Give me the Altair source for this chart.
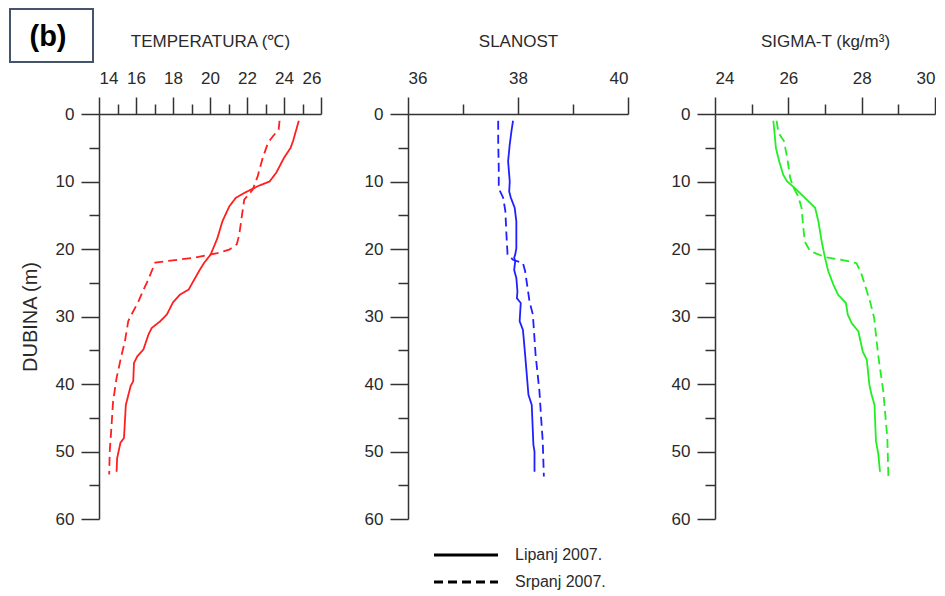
import altair as alt
import pandas as pd

FONT = "Liberation Sans"
INK = "#2a2a2a"

# ---------------- data ----------------
months = ["Lipanj 2007.", "Srpanj 2007."]
panel_titles = ["TEMPERATURA (℃)", "SLANOST", "SIGMA-T (kg/m³)"]
panel_label = "(b)"
y_title = "DUBINA (m)"

temp_jun_depth = [1.0, 4.0, 5.0, 6.5, 8.7, 10.0, 10.7, 11.7, 12.4, 13.7, 15.9, 18.4, 20.8, 22.1, 23.3, 26.0,
                  26.8, 27.9, 29.7, 30.7, 31.7, 32.7, 34.9, 35.9, 36.9, 39.6, 40.3, 43.1, 48.0, 48.7, 51.0, 53.0]
temp_jun_val = [24.8, 24.49, 24.36, 24.0, 23.58, 23.22, 22.58, 21.85, 21.4, 21.04, 20.67, 20.4, 20.04, 19.67, 19.4,
                18.85, 18.36, 18.0, 17.67, 17.31, 16.85, 16.67, 16.4, 16.07, 15.89, 15.85, 15.71, 15.45, 15.35,
                15.16, 14.98, 14.95]
temp_jul_depth = [1.0, 2.3, 3.3, 4.3, 6.5, 9.2, 11.2, 12.7, 14.4, 17.9, 19.3, 20.1, 20.6, 21.3, 22.0, 22.6, 24.8,
                  26.3, 27.8, 29.7, 30.7, 33.7, 35.7, 39.1, 42.6, 46.5, 50.0, 53.4]
temp_jul_val = [23.76, 23.71, 23.4, 23.13, 22.85, 22.58, 22.31, 21.85, 21.76, 21.58, 21.45, 21.04, 20.4, 19.13,
                17.04, 16.95, 16.62, 16.36, 16.13, 15.76, 15.58, 15.4, 15.22, 14.95, 14.76, 14.67, 14.58, 14.55]

sal_jun_depth = [1.0, 2.6, 4.5, 7.0, 10.0, 11.5, 12.4, 13.9, 15.9, 19.9, 20.8, 21.3, 21.8, 23.1, 24.3, 26.3, 27.3,
                 28.0, 30.7, 32.0, 35.7, 41.6, 43.1, 49.0, 50.0, 53.0]
sal_jun_val = [37.91, 37.88, 37.85, 37.82, 37.85, 37.84, 37.87, 37.94, 37.97, 37.97, 37.95, 37.93, 37.95, 37.93,
               37.97, 37.99, 37.98, 38.05, 38.03, 38.09, 38.13, 38.19, 38.25, 38.28, 38.30, 38.30]
sal_jul_depth = [1.0, 4.0, 8.0, 11.0, 12.4, 14.4, 17.9, 20.8, 21.6, 22.1, 23.3, 27.8, 29.7, 35.7, 41.1, 45.0,
                 48.5, 53.7]
sal_jul_val = [37.64, 37.64, 37.65, 37.65, 37.73, 37.77, 37.79, 37.81, 37.91, 38.09, 38.13, 38.21, 38.27, 38.32,
               38.39, 38.42, 38.45, 38.47]

sig_jun_depth = [1.0, 2.6, 5.0, 7.0, 9.0, 10.0, 11.0, 12.2, 13.9, 15.9, 18.9, 21.3, 23.3, 25.3, 26.8, 28.0, 29.7,
                 31.0, 32.2, 35.2, 36.4, 40.1, 41.6, 43.1, 48.5, 50.2, 53.0]
sig_jun_val = [25.59, 25.62, 25.66, 25.75, 25.86, 25.97, 26.18, 26.41, 26.73, 26.82, 26.91, 27.0, 27.09, 27.23,
               27.36, 27.57, 27.62, 27.73, 27.91, 28.03, 28.14, 28.21, 28.27, 28.35, 28.39, 28.45, 28.5]
sig_jul_depth = [1.0, 2.8, 4.0, 6.5, 9.5, 11.0, 12.2, 13.9, 16.9, 18.9, 20.3, 21.2, 21.6, 22.1, 23.8, 27.8, 30.2,
                 35.7, 41.1, 45.5, 48.0, 53.9]
sig_jul_val = [25.68, 25.73, 25.88, 25.97, 26.05, 26.15, 26.27, 26.36, 26.41, 26.45, 26.59, 27.0, 27.45, 27.86,
               28.0, 28.23, 28.34, 28.45, 28.59, 28.66, 28.7, 28.73]

depth_major = [0, 10, 20, 30, 40, 50, 60]
depth_minor = [5, 15, 25, 35, 45, 55]

# ---------------- table ----------------
rows = []
series = [
    ("T", months[0], temp_jun_depth, temp_jun_val),
    ("T", months[1], temp_jul_depth, temp_jul_val),
    ("S", months[0], sal_jun_depth, sal_jun_val),
    ("S", months[1], sal_jul_depth, sal_jul_val),
    ("D", months[0], sig_jun_depth, sig_jun_val),
    ("D", months[1], sig_jul_depth, sig_jul_val),
]
for key, month, depths, vals in series:
    for i, (d, v) in enumerate(zip(depths, vals)):
        rows.append({"var": key, "month": month, "depth": d, "value": v, "idx": i})
df = pd.DataFrame(rows)

dash_scale = alt.Scale(domain=months, range=[[1, 0], [9, 5]])
legend = alt.Legend(
    orient="none", legendX=359, legendY=433, title=None,
    symbolType="M-6.4,0H6.4", symbolSize=100, symbolStrokeWidth=3, symbolStrokeColor="black",
    symbolFillColor="transparent",
    labelFontSize=16, labelFont=FONT, labelColor=INK, labelOffset=41, rowPadding=11, padding=0,
)


def panel(key, domain, major, minor, color, title, width, ytitle=None, extra=()):
    base = alt.Chart(df).transform_filter(alt.datum["var"] == key)
    xscale = alt.Scale(domain=domain, nice=False, zero=False)
    yscale = alt.Scale(domain=[0, 60], reverse=True, nice=False, zero=False)
    y_axis_kwargs = dict(values=depth_major, tickSize=18, labelPadding=7, grid=False, orient="left")
    if ytitle:
        y_axis = alt.Axis(title=ytitle, titlePadding=15, titleFontSize=20, **y_axis_kwargs)
    else:
        y_axis = alt.Axis(title=None, **y_axis_kwargs)
    lines = base.mark_line(color=color, strokeWidth=1.8).encode(
        x=alt.X("value:Q", scale=xscale,
                axis=alt.Axis(orient="top", values=major, tickSize=17, labelPadding=10, grid=False,
                              title=title, titlePadding=19, format="d")),
        y=alt.Y("depth:Q", scale=yscale, axis=y_axis),
        strokeDash=alt.StrokeDash("month:N", scale=dash_scale, legend=legend),
        order="idx:Q",
    )
    ghost = base.mark_point(opacity=0).encode(
        x=alt.X("value:Q", scale=xscale,
                axis=alt.Axis(orient="top", values=minor, tickSize=10, labels=False, domain=False,
                              grid=False, title=None)),
        y=alt.Y("depth:Q", scale=yscale,
                axis=alt.Axis(orient="left", values=depth_minor, tickSize=10, labels=False, domain=False,
                              grid=False, title=None)),
    )
    return alt.layer(lines, ghost, *extra).resolve_axis(x="independent", y="independent").properties(
        width=width, height=405)


label_df = pd.DataFrame({"t": [panel_label]})
box = alt.Chart(label_df).mark_rect(fill="white", stroke="#44546A", strokeWidth=2).encode(
    x=alt.value(-89), x2=alt.value(-6), y=alt.value(-105), y2=alt.value(-52))
box_text = alt.Chart(label_df).mark_text(font=FONT, fontSize=29, fontWeight="bold", color="black",
                                          align="center", baseline="middle").encode(
    x=alt.value(-51), y=alt.value(-77), text="t:N")

p1 = panel("T", [14, 26], [14, 16, 18, 20, 22, 24, 26], [15, 17, 19, 21, 23, 25], "#ff1f1f",
           panel_titles[0], 222, ytitle=y_title, extra=(box, box_text))
p2 = panel("S", [36, 40], [36, 38, 40], [37, 39], "#2020ff", panel_titles[1], 220)
p3 = panel("D", [24, 30], [24, 26, 28, 30], [25, 27, 29], "#22ee22", panel_titles[2], 220)

chart = alt.hconcat(p1, p2, p3, spacing=87, bounds="flush").properties(
    padding={"left": 1, "top": 0, "right": 0, "bottom": 0}
).configure_view(stroke=None).configure_axis(
    labelFont=FONT, labelFontSize=17, labelColor=INK,
    titleFont=FONT, titleFontSize=17, titleFontWeight="normal", titleColor=INK,
    domainColor="#333333", tickColor="#333333", domainWidth=1.5, tickWidth=1.5,
)

chart.save("out.html", embed_options={"renderer": "svg", "actions": False})
